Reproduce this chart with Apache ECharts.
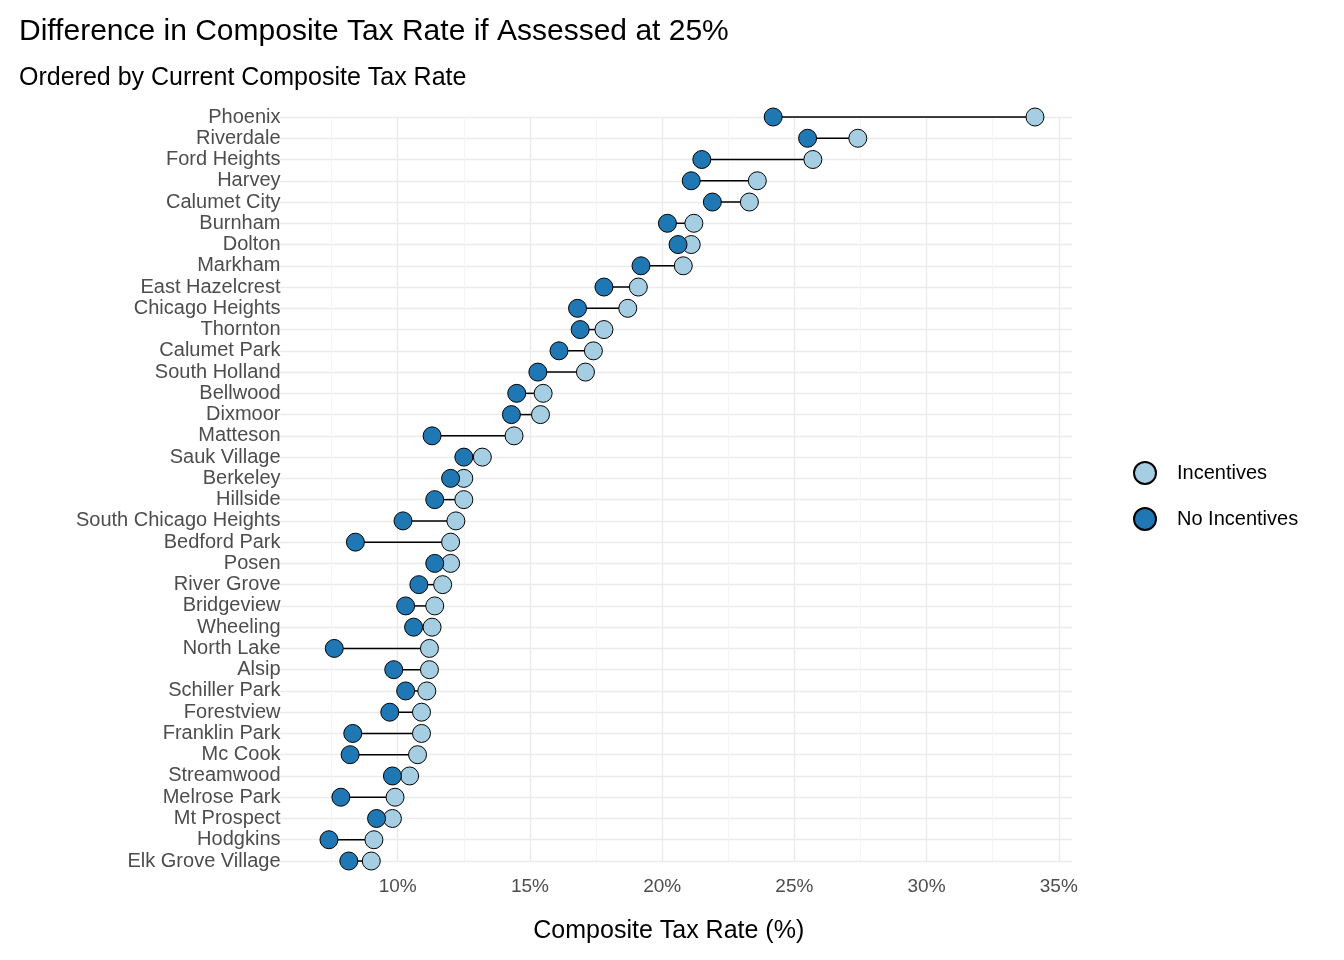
<!DOCTYPE html>
<html><head><meta charset="utf-8">
<script src="https://cdn.jsdelivr.net/npm/echarts@6/dist/echarts.min.js"></script>
<style>html,body{margin:0;background:#fff}#c{width:1344px;height:960px}</style>
</head><body><div id="c"></div>
<script>
var cities = ['Phoenix','Riverdale','Ford Heights','Harvey','Calumet City','Burnham','Dolton','Markham','East Hazelcrest','Chicago Heights','Thornton','Calumet Park','South Holland','Bellwood','Dixmoor','Matteson','Sauk Village','Berkeley','Hillside','South Chicago Heights','Bedford Park','Posen','River Grove','Bridgeview','Wheeling','North Lake','Alsip','Schiller Park','Forestview','Franklin Park','Mc Cook','Streamwood','Melrose Park','Mt Prospect','Hodgkins','Elk Grove Village'];
var incentives = [34.1,27.4,25.7,23.6,23.3,21.2,21.1,20.8,19.1,18.7,17.8,17.4,17.1,15.5,15.4,14.4,13.2,12.5,12.5,12.2,12.0,12.0,11.7,11.4,11.3,11.2,11.2,11.1,10.9,10.9,10.75,10.45,9.9,9.8,9.1,9.0];
var noIncentives = [24.2,25.5,21.5,21.1,21.9,20.2,20.6,19.2,17.8,16.8,16.9,16.1,15.3,14.5,14.3,11.3,12.5,12.0,11.4,10.2,8.4,11.4,10.8,10.3,10.6,7.6,9.85,10.3,9.7,8.3,8.2,9.8,7.85,9.2,7.4,8.15];

var chart = echarts.init(document.getElementById('c'));
var font = 'Liberation Sans, Arial, sans-serif';
chart.setOption({
  animation: false,
  textStyle: {fontFamily: font},
  title: [
    {text: 'Difference in Composite Tax Rate if Assessed at 25%', left: 14, top: 12, textStyle: {fontSize: 30, fontWeight: 'normal', color: '#000'}},
    {text: 'Ordered by Current Composite Tax Rate', left: 14, top: 61, textStyle: {fontSize: 25, fontWeight: 'normal', color: '#000'}}
  ],
  legend: {
    orient: 'vertical', left: 1128, top: 456, itemGap: 22, itemWidth: 22, itemHeight: 22,
    textStyle: {fontSize: 20, color: '#000', padding: [0, 0, 0, 16]},
    data: [{name: 'Incentives', icon: 'circle'}, {name: 'No Incentives', icon: 'circle'}]
  },
  grid: {left: 265.5, right: 272, top: 117, bottom: 99},
  xAxis: {
    type: 'value', min: 5, max: 35.5, interval: 5,
    axisLine: {show: false}, axisTick: {show: false},
    axisLabel: {fontSize: 19, color: '#4d4d4d', margin: 16, formatter: function (v) { return v === 5 ? '' : v + '%'; }},
    splitLine: {lineStyle: {color: ['transparent', '#ebebeb', '#ebebeb', '#ebebeb', '#ebebeb', '#ebebeb', '#ebebeb'], width: 1.4}},
    minorTick: {show: false, splitNumber: 2},
    minorSplitLine: {show: true, lineStyle: {color: '#f3f3f3', width: 0.8}},
    name: 'Composite Tax Rate (%)', nameLocation: 'middle', nameGap: 58,
    nameTextStyle: {fontSize: 25, color: '#000'}
  },
  yAxis: {
    type: 'category', data: cities, inverse: true, boundaryGap: false,
    axisLine: {show: false}, axisTick: {show: false},
    axisLabel: {fontSize: 20, color: '#4d4d4d', margin: -15, interval: 0},
    splitLine: {show: true, interval: 0, lineStyle: {color: '#ebebeb', width: 1.4}}
  },
  series: [
    {
      type: 'custom', silent: true, z: 1,
      data: cities.map(function (c, i) { return [noIncentives[i], incentives[i], i]; }),
      renderItem: function (params, api) {
        var a = api.coord([api.value(0), api.value(2)]);
        var b = api.coord([api.value(1), api.value(2)]);
        return {type: 'line', shape: {x1: a[0], y1: a[1], x2: b[0], y2: b[1]}, style: {stroke: '#000', lineWidth: 1.5}};
      },
      encode: {x: [0, 1], y: 2}
    },
    {name: 'Incentives', type: 'scatter', z: 3, symbolSize: 18, data: incentives.map(function (v, i) { return [v, i]; }),
      itemStyle: {color: '#a6cee3', borderColor: '#000', borderWidth: 1, opacity: 1}},
    {name: 'No Incentives', type: 'scatter', z: 4, symbolSize: 18, data: noIncentives.map(function (v, i) { return [v, i]; }),
      itemStyle: {color: '#1f78b4', borderColor: '#000', borderWidth: 1, opacity: 1}}
  ]
});
</script></body></html>
